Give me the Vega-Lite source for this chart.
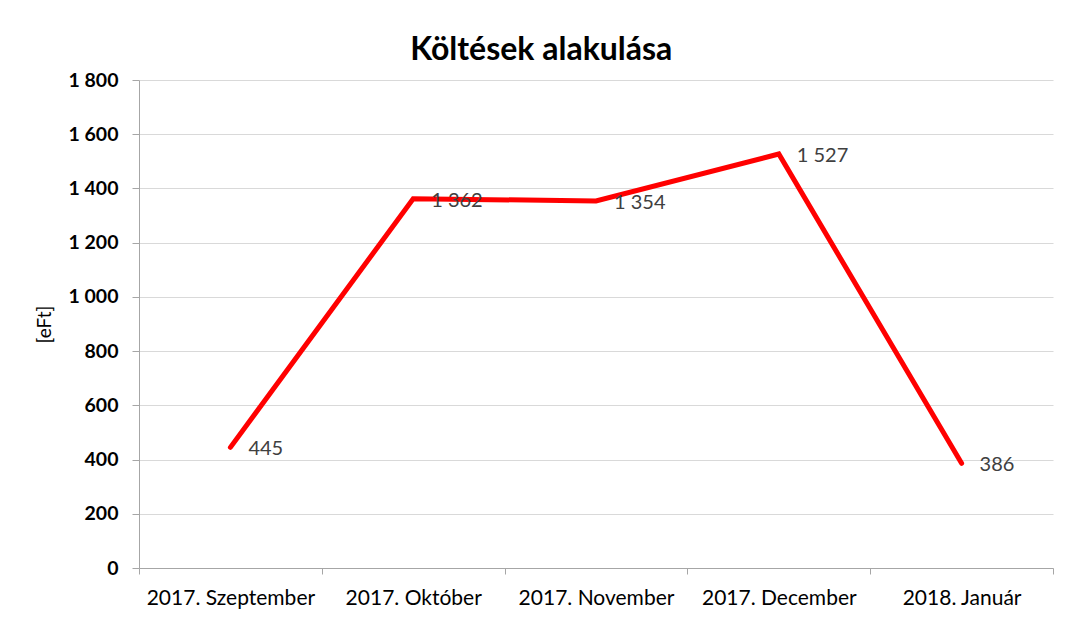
{
  "$schema": "https://vega.github.io/schema/vega-lite/v6.json",
  "width": 914,
  "height": 488,
  "autosize": {"type": "none"},
  "padding": {"left": 139, "top": 80, "right": 13, "bottom": 74},
  "background": "white",
  "config": {
    "locale": {"number": {"decimal": ",", "thousands": " ", "grouping": [3], "currency": ["", " Ft"]}},
    "font": "Lato",
    "view": {"stroke": null}
  },
  "title": {
    "text": "Költések alakulása",
    "fontSize": 32,
    "fontWeight": "bold",
    "color": "#000000",
    "font": "Lato",
    "anchor": "middle",
    "frame": "bounds",
    "offset": 3,
    "dx": -3
  },
  "data": {
    "values": [
      {"honap": "2017. Szeptember", "ertek": 445},
      {"honap": "2017. Október", "ertek": 1362},
      {"honap": "2017. November", "ertek": 1354},
      {"honap": "2017. December", "ertek": 1527},
      {"honap": "2018. Január", "ertek": 386}
    ]
  },
  "encoding": {
    "x": {
      "field": "honap",
      "type": "nominal",
      "sort": null,
      "bandPosition": 0.5,
      "scale": {"type": "band", "paddingInner": 0, "paddingOuter": 0},
      "axis": {
        "title": null,
        "labelAngle": 0,
        "labelFontSize": 21,
        "labelColor": "#000000",
        "labelPadding": 13,
        "tickBand": "extent",
        "tickSize": 6,
        "tickColor": "#A6A6A6",
        "domainColor": "#A6A6A6",
        "grid": false
      }
    },
    "y": {
      "field": "ertek",
      "type": "quantitative",
      "scale": {"domain": [0, 1800], "nice": false},
      "axis": {
        "title": "[eFt]",
        "titleFontSize": 19,
        "titleFontWeight": "normal",
        "titleColor": "#000000",
        "titlePadding": 14,
        "values": [0, 200, 400, 600, 800, 1000, 1200, 1400, 1600, 1800],
        "format": ",d",
        "labelFontSize": 19.5,
        "labelFontWeight": "bold",
        "labelColor": "#000000",
        "labelPadding": 14,
        "tickSize": 7,
        "tickColor": "#A6A6A6",
        "domainColor": "#A6A6A6",
        "gridColor": "#D9D9D9",
        "gridWidth": 1
      }
    }
  },
  "layer": [
    {
      "mark": {"type": "line", "color": "#FF0000", "strokeWidth": 5, "strokeCap": "round", "strokeJoin": "miter"}
    },
    {
      "mark": {"type": "text", "align": "left", "baseline": "middle", "dx": 18, "dy": 2, "fontSize": 20, "color": "#404040"},
      "encoding": {"text": {"field": "ertek", "type": "quantitative", "format": ",d"}}
    }
  ]
}
